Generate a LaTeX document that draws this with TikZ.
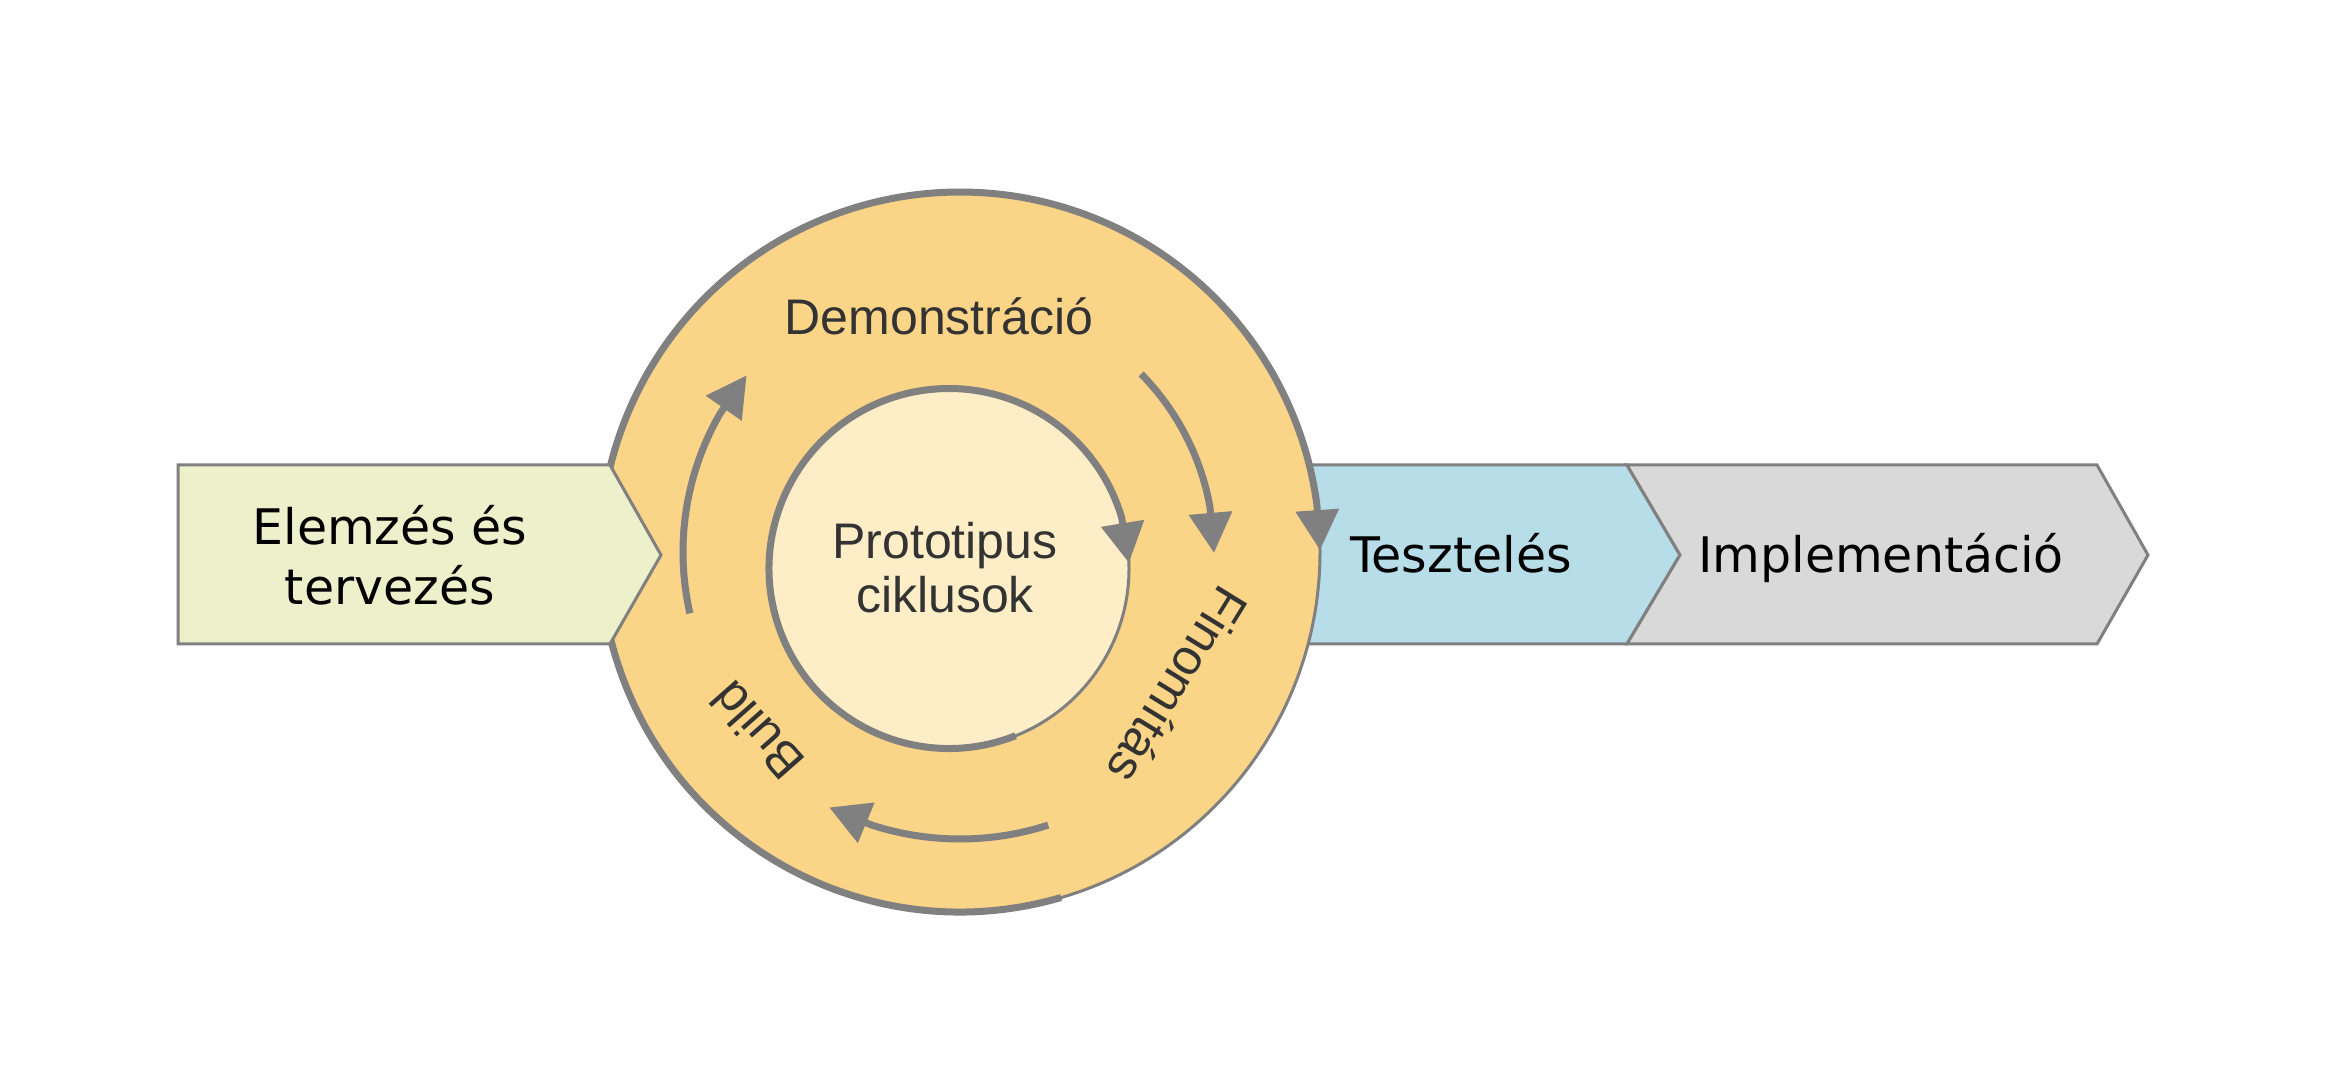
\documentclass[tikz,border=0pt]{standalone}
\usepackage{fontspec}
\newfontfamily\dejavu{DejaVu Sans}
\newfontfamily\arialf{Liberation Sans}
\usetikzlibrary{arrows.meta}
\definecolor{linegray}{RGB}{128,128,128}
\definecolor{greenfill}{RGB}{236,240,203}
\definecolor{orangefill}{RGB}{250,212,135}
\definecolor{innerfill}{RGB}{253,238,199}
\definecolor{bluefill}{RGB}{183,221,232}
\definecolor{grayfill}{RGB}{217,217,217}
\definecolor{textdark}{RGB}{51,51,51}
\begin{document}
\begin{tikzpicture}[x=1pt,y=1pt,
  box/.style={draw=linegray, line width=3pt, line join=miter},
  thickarrow/.style={draw=linegray, line width=7pt, -{Triangle[length=40pt,width=42pt]}},
  ringline/.style={draw=linegray, line width=3pt},
  phase/.style={font=\dejavu\fontsize{49}{60}\selectfont, text=black, align=center, inner sep=0pt},
  cyc/.style={font=\arialf\fontsize{50}{54}\selectfont, text=textdark, align=center, inner sep=0pt}]

\useasboundingbox (0,0) rectangle (2335,1081);
\fill[white] (0,0) rectangle (2335,1081);

\coordinate (C) at (960,529);
\coordinate (I) at (949,512.5);

% right boxes
\draw[box, fill=bluefill] (1100,616) -- (1627,616) -- (1680,526) -- (1627,437) -- (1100,437) -- cycle;
\draw[box, fill=grayfill] (1627,616) -- (2097,616) -- (2148,526) -- (2097,437) -- (1627,437) -- (1680,526) -- cycle;

% big circle
\filldraw[ringline, fill=orangefill] (C) circle[radius=360pt];
\draw[thickarrow, shift={(960,529)}] (286.3:360pt) arc[start angle=286.3, end angle=7.6, radius=360pt] -- (0.3:360pt);

% left chevron
\draw[box, fill=greenfill] (178,616) -- (610,616) -- (661,526) -- (610,437) -- (178,437) -- cycle;

% inner circle
\filldraw[ringline, fill=innerfill] (I) circle[radius=180pt];
\draw[thickarrow, shift={(949,512.5)}] (291.7:180pt) arc[start angle=291.7, end angle=16.5, radius=180pt] -- (1.8:180pt);

% ring arrows
\draw[thickarrow, shift={(960,529)}] (192.8:277pt) arc[start angle=192.8, end angle=149.9, radius=277pt] -- (140.4:277pt);
\draw[thickarrow, shift={(960,529)}] (44.5:254pt) arc[start angle=44.5, end angle=10.2, radius=254pt] -- (-0.2:254pt);
\draw[thickarrow, shift={(960,529)}] (287.9:287pt) arc[start angle=287.9, end angle=252.1, radius=287pt] -- (242.9:287pt);

% texts
\node[phase] (elemzes) at (390,526) {Elemzés és\\tervezés};
\node[phase, anchor=base] (teszt) at (1461,508) {Tesztelés};
\node[phase, anchor=base] (impl) at (1881,508) {Implementáció};
\node[cyc, anchor=base] (demo) at (939,746) {Demonstráció};
\node[cyc] (proto) at (945,513) {Prototipus\\ciklusok};
\node[cyc, rotate=131.4] (build) at (757,350) {Build};
\node[cyc, rotate=-121.6] (finom) at (1178,395) {Finomítás};
\end{tikzpicture}
\end{document}
